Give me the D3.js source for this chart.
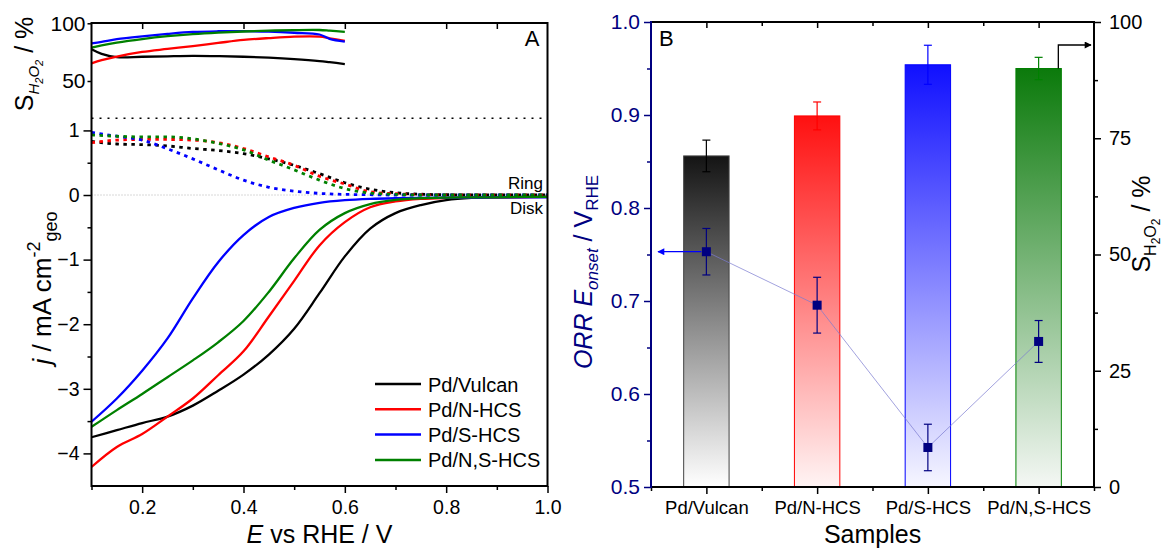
<!DOCTYPE html>
<html>
<head>
<meta charset="utf-8">
<title>RRDE ORR selectivity</title>
<style>
  body { margin: 0; background: #fff; }
  svg text { font-family: 'Liberation Sans', Arial, Helvetica, sans-serif; }
</style>
</head>
<body>
<svg id="chart" width="1164" height="548"></svg>
<script src="https://cdn.jsdelivr.net/npm/d3@7/dist/d3.min.js"></script>
<script>
// ---------------- data ----------------
var samples = ["Pd/Vulcan", "Pd/N-HCS", "Pd/S-HCS", "Pd/N,S-HCS"];

// panel A, top: H2O2 selectivity (%) vs E (V vs RHE)
var selE = [0.1, 0.12, 0.15, 0.2, 0.25, 0.3, 0.35, 0.4, 0.45, 0.5, 0.55, 0.57, 0.6];
var selVulcan = [77.5, 73.5, 70.6, 71, 71.4, 71.7, 71.5, 71, 70.2, 69, 67.3, 66.3, 64.7];
var selNHCS   = [65.3, 68, 71.2, 75.2, 77.8, 80.3, 83, 85.6, 87.2, 88.4, 88.4, 87, 84.7];
var selSHCS   = [82.7, 84, 86.2, 88.7, 90.8, 92.5, 93.1, 93.2, 92.8, 91.8, 90.3, 86.5, 84.1];
var selNSHCS  = [78.9, 80.8, 83.2, 86.3, 88.8, 90.7, 92, 92.9, 93.6, 94.1, 94.2, 93.6, 92.5];

// panel A, bottom: ring (dashed) and disk (solid) currents
var scanE = [0.1, 0.15, 0.2, 0.25, 0.3, 0.35, 0.4, 0.45, 0.5, 0.55, 0.6, 0.65, 0.7, 0.75, 0.8, 0.85, 0.9, 0.95, 1.0];
var ringVulcan = [0.83, 0.79, 0.78, 0.76, 0.72, 0.69, 0.64, 0.56, 0.46, 0.33, 0.19, 0.09, 0.035, 0.012, 0.005, 0, 0, 0, 0];
var ringNHCS   = [0.81, 0.85, 0.86, 0.86, 0.85, 0.81, 0.72, 0.59, 0.46, 0.29, 0.17, 0.05, 0.02, 0.005, 0, 0, 0, 0, 0];
var ringSHCS   = [0.97, 0.91, 0.85, 0.715, 0.56, 0.39, 0.23, 0.12, 0.06, 0.025, 0.01, 0.005, 0, 0, 0, 0, 0, 0, 0];
var ringNSHCS  = [0.93, 0.91, 0.90, 0.90, 0.87, 0.80, 0.70, 0.54, 0.39, 0.23, 0.10, 0.03, 0.01, 0, 0, 0, 0, 0, 0];
var diskVulcan = [-3.75, -3.64, -3.53, -3.43, -3.26, -3.03, -2.78, -2.47, -2.07, -1.52, -0.95, -0.52, -0.28, -0.155, -0.08, -0.045, -0.035, -0.03, -0.03];
var diskNHCS   = [-4.21, -3.90, -3.70, -3.43, -3.15, -2.79, -2.42, -1.88, -1.33, -0.78, -0.42, -0.19, -0.10, -0.06, -0.045, -0.04, -0.035, -0.035, -0.03];
var diskSHCS   = [-3.51, -3.15, -2.72, -2.22, -1.6, -1.04, -0.62, -0.34, -0.2, -0.12, -0.08, -0.06, -0.05, -0.045, -0.04, -0.04, -0.035, -0.035, -0.035];
var diskNSHCS  = [-3.59, -3.33, -3.08, -2.82, -2.56, -2.28, -1.95, -1.50, -0.98, -0.54, -0.28, -0.14, -0.075, -0.05, -0.04, -0.035, -0.035, -0.03, -0.03];

// panel B
var onsetE   = [0.856, 0.899, 0.954, 0.950];
var onsetErr = [0.017, 0.015, 0.021, 0.012];
var selH2O2  = [50.6, 39.1, 8.5, 31.3];
var selErr   = [5.0, 6.0, 5.0, 4.5];

// ---------------- styles ----------------
var lineColors = ["#000000", "#ff0000", "#0000ff", "#008000"];
var barTop     = ["#141414", "#ff1010", "#1010ff", "#0b7a0b"];
var barBottom  = ["#ffffff", "#fff4f4", "#f6f6ff", "#f4f7f4"];
var navy = "#000080";

var selSeries  = [selVulcan, selNHCS, selSHCS, selNSHCS];
var ringSeries = [ringVulcan, ringNHCS, ringSHCS, ringNSHCS];
var diskSeries = [diskVulcan, diskNHCS, diskSHCS, diskNSHCS];

var svg = d3.select("#chart");
var defs = svg.append("defs");

function styleAxis(g, size, color) {
  g.attr("font-size", null).attr("font-family", null);
  g.select(".domain").remove();
  g.selectAll(".tick line").attr("stroke", color).attr("stroke-width", 1.5);
  g.selectAll(".tick text").attr("fill", color).style("font-size", size + "px");
}

// text made of pieces with their own size / style / vertical shift
function richText(x, y, angle, parts, opts) {
  var t = svg.append("text")
    .attr("transform", "translate(" + x + "," + y + ") rotate(" + angle + ")")
    .attr("text-anchor", opts.anchor || "middle")
    .attr("fill", opts.fill || "#000");
  parts.forEach(function(p) {
    t.append("tspan")
      .attr("dy", p.dy || 0)
      .style("font-size", p.size + "px")
      .style("font-style", p.italic ? "italic" : "normal")
      .text(p.t);
  });
  return t;
}

var minus = function(d) { return d < 0 ? "\u2212" + Math.abs(d) : String(d); };

// =============== Panel A ===============
var A = { left: 91.5, right: 547.5, top: 23, bottom: 486 };
var xA = d3.scaleLinear().domain([0.1, 1.0]).range([A.left, A.right]);
var yJ = d3.scaleLinear().domain([-4.5, 1.2]).range([485.7, 117.5]);
var yS = d3.scaleLinear().domain([50, 100]).range([81, 23.3]);

defs.append("clipPath").attr("id", "clipA")
  .append("rect").attr("x", A.left).attr("y", A.top)
  .attr("width", A.right - A.left).attr("height", A.bottom - A.top);

var plotA = svg.append("g").attr("clip-path", "url(#clipA)");

// zero line and separator
plotA.append("line")
  .attr("x1", A.left).attr("x2", A.right)
  .attr("y1", yJ(0)).attr("y2", yJ(0))
  .attr("stroke", "#b0b0b0").attr("stroke-width", 1).attr("stroke-dasharray", "1,2");
plotA.append("line")
  .attr("x1", A.left).attr("x2", A.right)
  .attr("y1", yJ(1.19)).attr("y2", yJ(1.19))
  .attr("stroke", "#000").attr("stroke-width", 1.5).attr("stroke-dasharray", "2,6");

var ringLine = d3.line()
  .x(function(d, i) { return xA(scanE[i]); })
  .y(function(d) { return yJ(d); })
  .curve(d3.curveMonotoneX);
var diskLine = d3.line()
  .x(function(d, i) { return xA(scanE[i]); })
  .y(function(d) { return yJ(d); })
  .curve(d3.curveCatmullRom.alpha(0.5));
var selLine = d3.line()
  .x(function(d, i) { return xA(selE[i]); })
  .y(function(d) { return yS(d); })
  .curve(d3.curveCatmullRom.alpha(0.5));

ringSeries.forEach(function(s, k) {
  plotA.append("path").attr("d", ringLine(s))
    .attr("fill", "none").attr("stroke", lineColors[k])
    .attr("stroke-width", 2.8).attr("stroke-dasharray", "3.5,4.5");
});
diskSeries.forEach(function(s, k) {
  plotA.append("path").attr("d", diskLine(s))
    .attr("fill", "none").attr("stroke", lineColors[k]).attr("stroke-width", 2.3);
});
selSeries.forEach(function(s, k) {
  plotA.append("path").attr("d", selLine(s))
    .attr("fill", "none").attr("stroke", lineColors[k]).attr("stroke-width", 2.3);
});

// axes A
svg.append("g").attr("transform", "translate(0," + A.bottom + ")")
  .call(d3.axisBottom(xA).tickValues([0.2, 0.4, 0.6, 0.8, 1.0]).tickSize(7).tickPadding(7)
    .tickFormat(d3.format(".1f")))
  .call(styleAxis, 19.5, "#000");
svg.append("g").attr("transform", "translate(0," + A.bottom + ")")
  .call(d3.axisBottom(xA).tickValues([0.1, 0.3, 0.5, 0.7, 0.9]).tickSize(4).tickFormat(""))
  .call(styleAxis, 19, "#000");
svg.append("g").attr("transform", "translate(0," + A.top + ")")
  .call(d3.axisTop(xA).tickValues([0.2, 0.4, 0.6, 0.8, 0.9]).tickSize(-6).tickFormat(""))
  .call(styleAxis, 19, "#000");
svg.append("g").attr("transform", "translate(" + A.left + ",0)")
  .call(d3.axisLeft(yJ).tickValues([-4, -3, -2, -1, 0, 1]).tickSize(8).tickPadding(4)
    .tickFormat(minus))
  .call(styleAxis, 19.5, "#000");
svg.append("g").attr("transform", "translate(" + A.left + ",0)")
  .call(d3.axisLeft(yJ).tickValues([-3.5, -2.5, -1.5, -0.5, 0.5]).tickSize(4).tickFormat(""))
  .call(styleAxis, 19, "#000");
svg.append("g").attr("transform", "translate(" + A.left + ",0)")
  .call(d3.axisLeft(yS).tickValues([50, 100]).tickSize(4).tickPadding(2))
  .call(styleAxis, 21, "#000");

svg.append("rect")
  .attr("x", A.left).attr("y", A.top)
  .attr("width", A.right - A.left).attr("height", A.bottom - A.top)
  .attr("fill", "none").attr("stroke", "#000").attr("stroke-width", 2);

// labels A
svg.append("text").attr("x", 532).attr("y", 46).attr("text-anchor", "middle")
  .style("font-size", "22px").text("A");
svg.append("text").attr("x", 543).attr("y", 189).attr("text-anchor", "end")
  .style("font-size", "17px").text("Ring");
svg.append("text").attr("x", 543).attr("y", 214).attr("text-anchor", "end")
  .style("font-size", "17px").text("Disk");

var legA = svg.append("g");
samples.forEach(function(s, k) {
  var y = 384 + k * 25.3;
  legA.append("line").attr("x1", 375).attr("x2", 421).attr("y1", y).attr("y2", y)
    .attr("stroke", lineColors[k]).attr("stroke-width", 2.5);
  legA.append("text").attr("x", 428).attr("y", y + 7.5)
    .style("font-size", "20px").text(s);
});

richText((A.left + A.right) / 2, 543, 0, [
  { t: "E", size: 25, italic: true },
  { t: " vs RHE / V", size: 25 }
], {});
richText(51, 288, -90, [
  { t: "j", size: 26, italic: true },
  { t: " / mA cm", size: 26 },
  { t: "-2", size: 18, dy: -11 },
  { t: "geo", size: 18, dy: 17 }
], {});
richText(33, 64, -90, [
  { t: "S", size: 25 },
  { t: "H", size: 15, italic: true, dy: 6 },
  { t: "2", size: 11, italic: true, dy: 4 },
  { t: "O", size: 15, italic: true, dy: -4 },
  { t: "2", size: 11, italic: true, dy: 4 },
  { t: " / %", size: 25, dy: -10 }
], {});

// =============== Panel B ===============
var B = { left: 651, right: 1094, top: 22, bottom: 487 };
var xB = d3.scalePoint().domain(samples).range([B.left, B.right]).padding(0.5);
var eB = d3.scaleLinear().domain([0.5, 1.0]).range([B.bottom, B.top]);
var sB = d3.scaleLinear().domain([0, 100]).range([B.bottom, B.top]);
var step = xB.step();
var barW = step * 0.41;

samples.forEach(function(s, k) {
  var gr = defs.append("linearGradient").attr("id", "grad" + k)
    .attr("x1", 0).attr("y1", 0).attr("x2", 0).attr("y2", 1);
  gr.append("stop").attr("offset", "0%").attr("stop-color", barTop[k]);
  gr.append("stop").attr("offset", "100%").attr("stop-color", barBottom[k]);
});

var plotB = svg.append("g");
plotB.selectAll("rect.bar").data(samples).enter().append("rect")
  .attr("class", "bar")
  .attr("x", function(d) { return xB(d) - barW / 2; })
  .attr("y", function(d, i) { return eB(onsetE[i]); })
  .attr("width", barW)
  .attr("height", function(d, i) { return eB(0.5) - eB(onsetE[i]); })
  .attr("fill", function(d, i) { return "url(#grad" + i + ")"; })
  .attr("stroke", function(d, i) { return i === 0 ? "#444" : lineColors[i]; })
  .attr("stroke-width", 1);

// error bars on the bars
samples.forEach(function(s, k) {
  var cx = xB(s), cap = 4;
  var g = plotB.append("g").attr("stroke", lineColors[k]).attr("stroke-width", 1.2);
  g.append("line").attr("x1", cx).attr("x2", cx)
    .attr("y1", eB(onsetE[k] + onsetErr[k])).attr("y2", eB(onsetE[k] - onsetErr[k]));
  [onsetE[k] + onsetErr[k], onsetE[k] - onsetErr[k]].forEach(function(v) {
    g.append("line").attr("x1", cx - cap).attr("x2", cx + cap)
      .attr("y1", eB(v)).attr("y2", eB(v));
  });
});

// selectivity points
var selPts = d3.line()
  .x(function(d, i) { return xB(samples[i]); })
  .y(function(d) { return sB(d); });
plotB.append("path").attr("d", selPts(selH2O2))
  .attr("fill", "none").attr("stroke", "#7a7ad0").attr("stroke-opacity", 0.7).attr("stroke-width", 1);
samples.forEach(function(s, k) {
  var cx = xB(s), cap = 4;
  var g = plotB.append("g").attr("stroke", navy).attr("stroke-width", 1.2);
  g.append("line").attr("x1", cx).attr("x2", cx)
    .attr("y1", sB(selH2O2[k] + selErr[k])).attr("y2", sB(selH2O2[k] - selErr[k]));
  [selH2O2[k] + selErr[k], selH2O2[k] - selErr[k]].forEach(function(v) {
    g.append("line").attr("x1", cx - cap).attr("x2", cx + cap)
      .attr("y1", sB(v)).attr("y2", sB(v));
  });
  plotB.append("rect").attr("x", cx - 4.5).attr("y", sB(selH2O2[k]) - 4.5)
    .attr("width", 9).attr("height", 9).attr("fill", navy);
});

// arrows pointing to the axes
function arrowMarker(id, color) {
  defs.append("marker").attr("id", id)
    .attr("viewBox", "0 0 10 10").attr("refX", 9).attr("refY", 5)
    .attr("markerWidth", 10).attr("markerHeight", 7).attr("markerUnits", "userSpaceOnUse")
    .attr("orient", "auto")
    .append("path").attr("d", "M0,0 L10,5 L0,10 Z").attr("fill", color);
}
arrowMarker("arrBlue", "#0000ff");
arrowMarker("arrBlack", "#000");

plotB.append("line")
  .attr("x1", xB(samples[0]) - 5).attr("x2", B.left + 7)
  .attr("y1", sB(selH2O2[0])).attr("y2", sB(selH2O2[0]))
  .attr("stroke", "#0000ff").attr("stroke-width", 1.3).attr("marker-end", "url(#arrBlue)");
var xr = xB(samples[3]) + barW / 2 - 3;
plotB.append("path")
  .attr("d", "M" + xr + "," + eB(onsetE[3]) + "V45H" + (B.right - 3))
  .attr("fill", "none").attr("stroke", "#000").attr("stroke-width", 1.3)
  .attr("marker-end", "url(#arrBlack)");

// axes B
var bounds = d3.range(samples.length + 1).map(function(i) { return B.left + i * step; });
svg.append("g").attr("transform", "translate(0," + B.bottom + ")")
  .call(d3.axisBottom(xB).tickSize(7).tickPadding(7))
  .call(styleAxis, 18.5, "#000");
var xLin = d3.scaleLinear().domain([B.left, B.right]).range([B.left, B.right]);
svg.append("g").attr("transform", "translate(0," + B.bottom + ")")
  .call(d3.axisBottom(xLin).tickValues(bounds).tickSize(4).tickFormat(""))
  .call(styleAxis, 18, "#000");
svg.append("g").attr("transform", "translate(0," + B.top + ")")
  .call(d3.axisTop(xB).tickSize(-6).tickFormat(""))
  .call(styleAxis, 18, "#000");
svg.append("g").attr("transform", "translate(0," + B.top + ")")
  .call(d3.axisTop(xLin).tickValues(bounds.slice(1, -1)).tickSize(-4).tickFormat(""))
  .call(styleAxis, 18, "#000");

svg.append("g").attr("transform", "translate(" + B.left + ",0)")
  .call(d3.axisLeft(eB).tickValues([0.5, 0.6, 0.7, 0.8, 0.9, 1.0]).tickSize(7).tickPadding(4)
    .tickFormat(d3.format(".1f")))
  .call(styleAxis, 21, navy);
svg.append("g").attr("transform", "translate(" + B.left + ",0)")
  .call(d3.axisLeft(eB).tickValues([0.55, 0.65, 0.75, 0.85, 0.95]).tickSize(4).tickFormat(""))
  .call(styleAxis, 21, navy);
svg.append("g").attr("transform", "translate(" + B.right + ",0)")
  .call(d3.axisRight(sB).tickValues([0, 25, 50, 75, 100]).tickSize(7).tickPadding(8))
  .call(styleAxis, 20, "#000");
svg.append("g").attr("transform", "translate(" + B.right + ",0)")
  .call(d3.axisRight(sB).tickValues([12.5, 37.5, 62.5, 87.5]).tickSize(4).tickFormat(""))
  .call(styleAxis, 20, "#000");

// frame B
var frame = svg.append("g").attr("stroke-width", 2).attr("stroke-linecap", "square");
frame.append("line").attr("x1", B.left).attr("x2", B.right).attr("y1", B.top).attr("y2", B.top).attr("stroke", "#000");
frame.append("line").attr("x1", B.left).attr("x2", B.right).attr("y1", B.bottom).attr("y2", B.bottom).attr("stroke", "#000");
frame.append("line").attr("x1", B.right).attr("x2", B.right).attr("y1", B.top).attr("y2", B.bottom).attr("stroke", "#000");
frame.append("line").attr("x1", B.left).attr("x2", B.left).attr("y1", B.top).attr("y2", B.bottom).attr("stroke", navy);

svg.append("text").attr("x", 659).attr("y", 46).style("font-size", "22px").text("B");

richText((B.left + B.right) / 2, 543, 0, [{ t: "Samples", size: 25 }], {});
richText(592, 272, -90, [
  { t: "ORR E", size: 25, italic: true },
  { t: "onset", size: 17, italic: true, dy: 6 },
  { t: " / V", size: 25, dy: -6 },
  { t: "RHE", size: 17, dy: 6 }
], { fill: navy });
richText(1150, 224, -90, [
  { t: "S", size: 25 },
  { t: "H", size: 16, dy: 6 },
  { t: "2", size: 12, dy: 4 },
  { t: "O", size: 16, dy: -4 },
  { t: "2", size: 12, dy: 4 },
  { t: " / %", size: 25, dy: -10 }
], {});
</script>
</body>
</html>
